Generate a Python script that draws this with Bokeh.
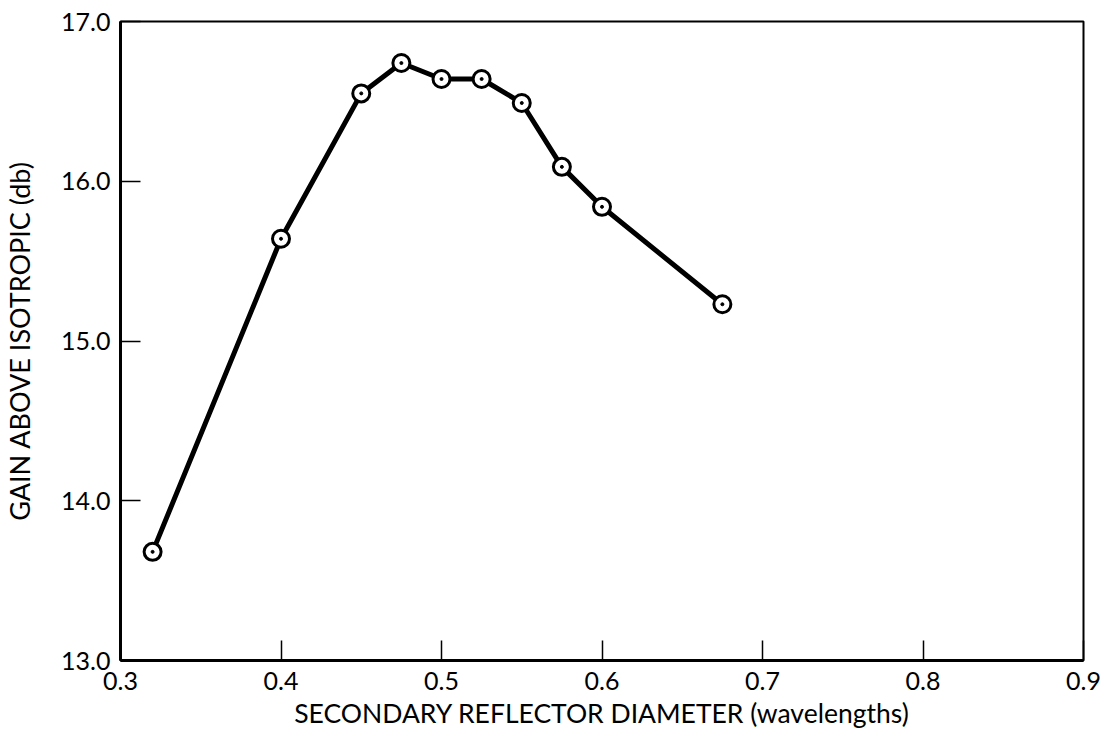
from bokeh.plotting import figure
from bokeh.models import Range1d, FixedTicker, NumeralTickFormatter, ColumnDataSource
from bokeh.embed import file_html
from bokeh.resources import INLINE

# Data
diameter = [0.32, 0.40, 0.45, 0.475, 0.50, 0.525, 0.55, 0.575, 0.60, 0.675]
gain = [13.68, 15.64, 16.55, 16.74, 16.64, 16.64, 16.49, 16.09, 15.84, 15.23]
x_ticks = [0.3, 0.4, 0.5, 0.6, 0.7, 0.8, 0.9]
y_ticks = [13.0, 14.0, 15.0, 16.0, 17.0]
x_title = "SECONDARY REFLECTOR DIAMETER (wavelengths)"
y_title = "GAIN ABOVE ISOTROPIC (db)"

FONT = "Lato"

src = ColumnDataSource(dict(x=diameter, y=gain))

p = figure(width=1108, height=734, output_backend="svg", toolbar_location=None,
           x_range=Range1d(0.3, 0.9), y_range=Range1d(13.0, 17.0),
           min_border_left=119, min_border_top=21, min_border_right=25, min_border_bottom=74)

p.grid.visible = False
p.outline_line_color = "black"
p.outline_line_width = 2
p.background_fill_color = "white"
p.border_fill_color = "white"

p.line("x", "y", source=src, line_color="black", line_width=5)
p.scatter("x", "y", source=src, marker="circle", size=17, fill_color="white",
          line_color="black", line_width=3)
p.scatter("x", "y", source=src, marker="circle", size=3, fill_color="black",
          line_color="black")

for ax in (p.xaxis[0], p.yaxis[0]):
    ax.axis_line_width = 3
    ax.axis_line_color = "black"
    ax.major_tick_in = 20
    ax.major_tick_out = 0
    ax.major_tick_line_width = 1.5
    ax.minor_tick_line_color = None
    ax.major_label_text_font = FONT
    ax.major_label_text_font_size = "25px"
    ax.major_label_text_color = "black"
    ax.axis_label_text_font = FONT
    ax.axis_label_text_font_style = "normal"
    ax.axis_label_text_color = "black"

p.xaxis.axis_label_text_font_size = "26.5px"
p.yaxis.axis_label_text_font_size = "27px"
p.xaxis.ticker = FixedTicker(ticks=x_ticks)
p.yaxis.ticker = FixedTicker(ticks=y_ticks)
p.xaxis.formatter = NumeralTickFormatter(format="0.0")
p.yaxis.formatter = NumeralTickFormatter(format="0.0")
p.xaxis.axis_label = x_title
p.yaxis.axis_label = y_title
p.xaxis.major_label_standoff = 11
p.yaxis.major_label_standoff = 10
p.xaxis.axis_label_standoff = 4
p.yaxis.axis_label_standoff = 22

open("out.html", "w").write(file_html(p, INLINE))
